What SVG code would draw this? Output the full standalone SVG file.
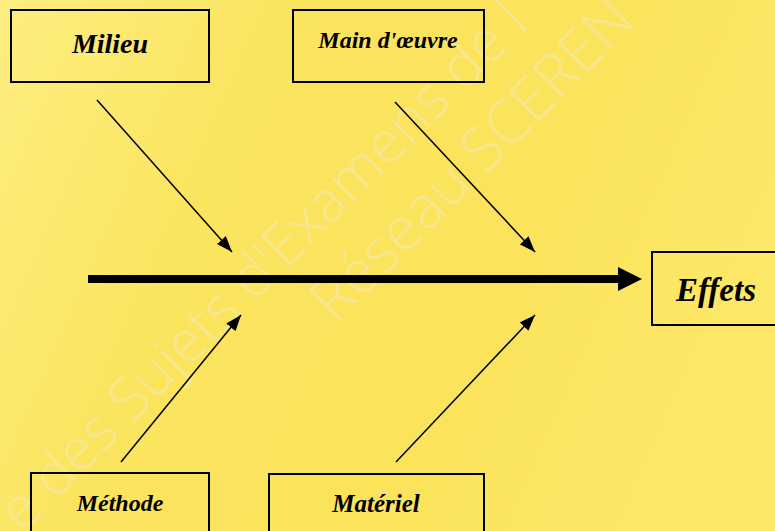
<svg xmlns="http://www.w3.org/2000/svg" width="775" height="531" viewBox="0 0 775 531">
<defs>
<linearGradient id="bg" x1="0" y1="0" x2="1" y2="0.3">
<stop offset="0" stop-color="#fdee80"/>
<stop offset="0.35" stop-color="#fbe45e"/>
<stop offset="0.75" stop-color="#fbe35c"/>
<stop offset="1" stop-color="#fde766"/>
</linearGradient>
<marker id="ah" viewBox="0 0 16 12" refX="16" refY="6" markerWidth="16" markerHeight="12" markerUnits="userSpaceOnUse" orient="auto">
<path d="M0,0 L16,6 L0,12 Z" fill="#000"/>
</marker>
<style>
.box{fill:none;stroke:#000;stroke-width:2}
.lbl{font-family:"Liberation Serif","DejaVu Serif",serif;font-style:italic;font-weight:bold;fill:#000;text-anchor:middle}
.bone{stroke:#000;stroke-width:1.5;fill:none;marker-end:url(#ah)}
.wm{font-family:"Open Sans","Liberation Sans",sans-serif;font-weight:300;fill:#f2ebb8;fill-opacity:0.55}
</style>
</defs>
<rect x="0" y="0" width="775" height="531" fill="url(#bg)"/>
<g id="watermark">
<text class="wm" font-size="58" transform="translate(22,534) rotate(-45)">e des Sujets d'Examens de l</text>
<text class="wm" font-size="60" transform="translate(335,325) rotate(-45)">Réseau SCEREN</text>
</g>
<g id="connectors">
<line class="bone" x1="97" y1="100" x2="232" y2="252"/>
<line class="bone" x1="395" y1="102" x2="535" y2="252"/>
<line class="bone" x1="121" y1="462" x2="241" y2="315"/>
<line class="bone" x1="396" y1="462" x2="535" y2="315"/>
<line x1="88" y1="279" x2="620" y2="279" stroke="#000" stroke-width="8"/>
<polygon points="618,267 642,279 618,291" fill="#000"/>
</g>
<g id="milieu">
<rect class="box" x="11" y="10" width="198" height="72"/>
<text class="lbl" x="110" y="53" font-size="28">Milieu</text>
</g>
<g id="main-oeuvre">
<rect class="box" x="293" y="10" width="191" height="72"/>
<text class="lbl" x="388" y="48" font-size="24">Main d'œuvre</text>
</g>
<g id="effets">
<rect class="box" x="652" y="252" width="130" height="73"/>
<text class="lbl" x="716" y="301" font-size="33">Effets</text>
</g>
<g id="methode">
<rect class="box" x="31" y="473" width="178" height="70"/>
<text class="lbl" x="120" y="511" font-size="24">Méthode</text>
</g>
<g id="materiel">
<rect class="box" x="269" y="474" width="215" height="70"/>
<text class="lbl" x="376" y="512" font-size="25">Matériel</text>
</g>
</svg>
